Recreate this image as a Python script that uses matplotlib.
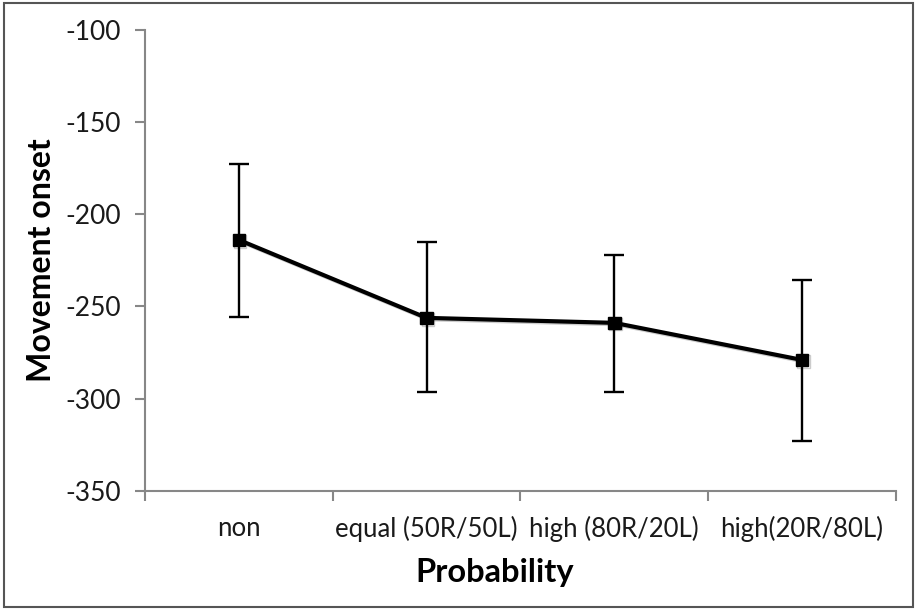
import matplotlib
matplotlib.use("Agg")
import matplotlib.pyplot as plt
import matplotlib.patheffects as pe
from matplotlib.patches import Rectangle

plt.rcParams["font.family"] = ["Lato", "DejaVu Sans"]
plt.rcParams["axes.unicode_minus"] = False

categories = ["non", "equal (50R/50L)", "high (80R/20L)", "high(20R/80L)"]
onset = [-213.9, -256.2, -258.9, -279.0]
err_low = [41.6, 40.0, 37.3, 43.7]
err_high = [41.2, 40.9, 36.9, 43.4]

fig = plt.figure(figsize=(9.17, 6.09), dpi=100)
ax = fig.add_axes([0.158, 0.194, 0.819, 0.757])

x = list(range(len(categories)))
ax.errorbar(x, onset, yerr=[err_low, err_high], fmt="none", ecolor="black",
            elinewidth=1.7, capsize=7, capthick=1.7, zorder=2)
ax.plot(x, onset, color="black", lw=3, marker="s", markersize=9, zorder=3,
        path_effects=[pe.SimpleLineShadow(offset=(1, -1), alpha=0.2), pe.Normal()])

ax.set_ylim(-350, -100)
ax.set_yticks([-350, -300, -250, -200, -150, -100])
ax.set_xlim(-0.5, len(categories) - 0.5)
ax.set_xticks([i - 0.5 for i in range(len(categories) + 1)])
ax.set_xticklabels([])
ax.set_xticks(x, minor=True)
ax.set_xticklabels(categories, minor=True)

for s in ["top", "right"]:
    ax.spines[s].set_visible(False)
for s in ["left", "bottom"]:
    ax.spines[s].set_color("#878787")
    ax.spines[s].set_linewidth(1.5)
ax.tick_params(axis="both", which="major", color="#878787", width=1.5, length=7,
               labelsize=19, labelcolor="#1a1a1a")
ax.tick_params(axis="x", which="minor", length=0, labelsize=18.5, pad=18, labelcolor="#1a1a1a")
ax.tick_params(axis="y", pad=10)

ax.set_ylabel("Movement onset", fontsize=23, fontweight="bold", labelpad=7)
ax.set_xlabel("Probability", fontsize=23.5, fontweight="bold")
ax.xaxis.set_label_coords(0.466, -0.145)

fig.patches.append(Rectangle((0.004, 0.004), 0.992, 0.991, transform=fig.transFigure,
                             fill=False, edgecolor="#555555", lw=1.5))

fig.savefig("out.png", dpi=100)
